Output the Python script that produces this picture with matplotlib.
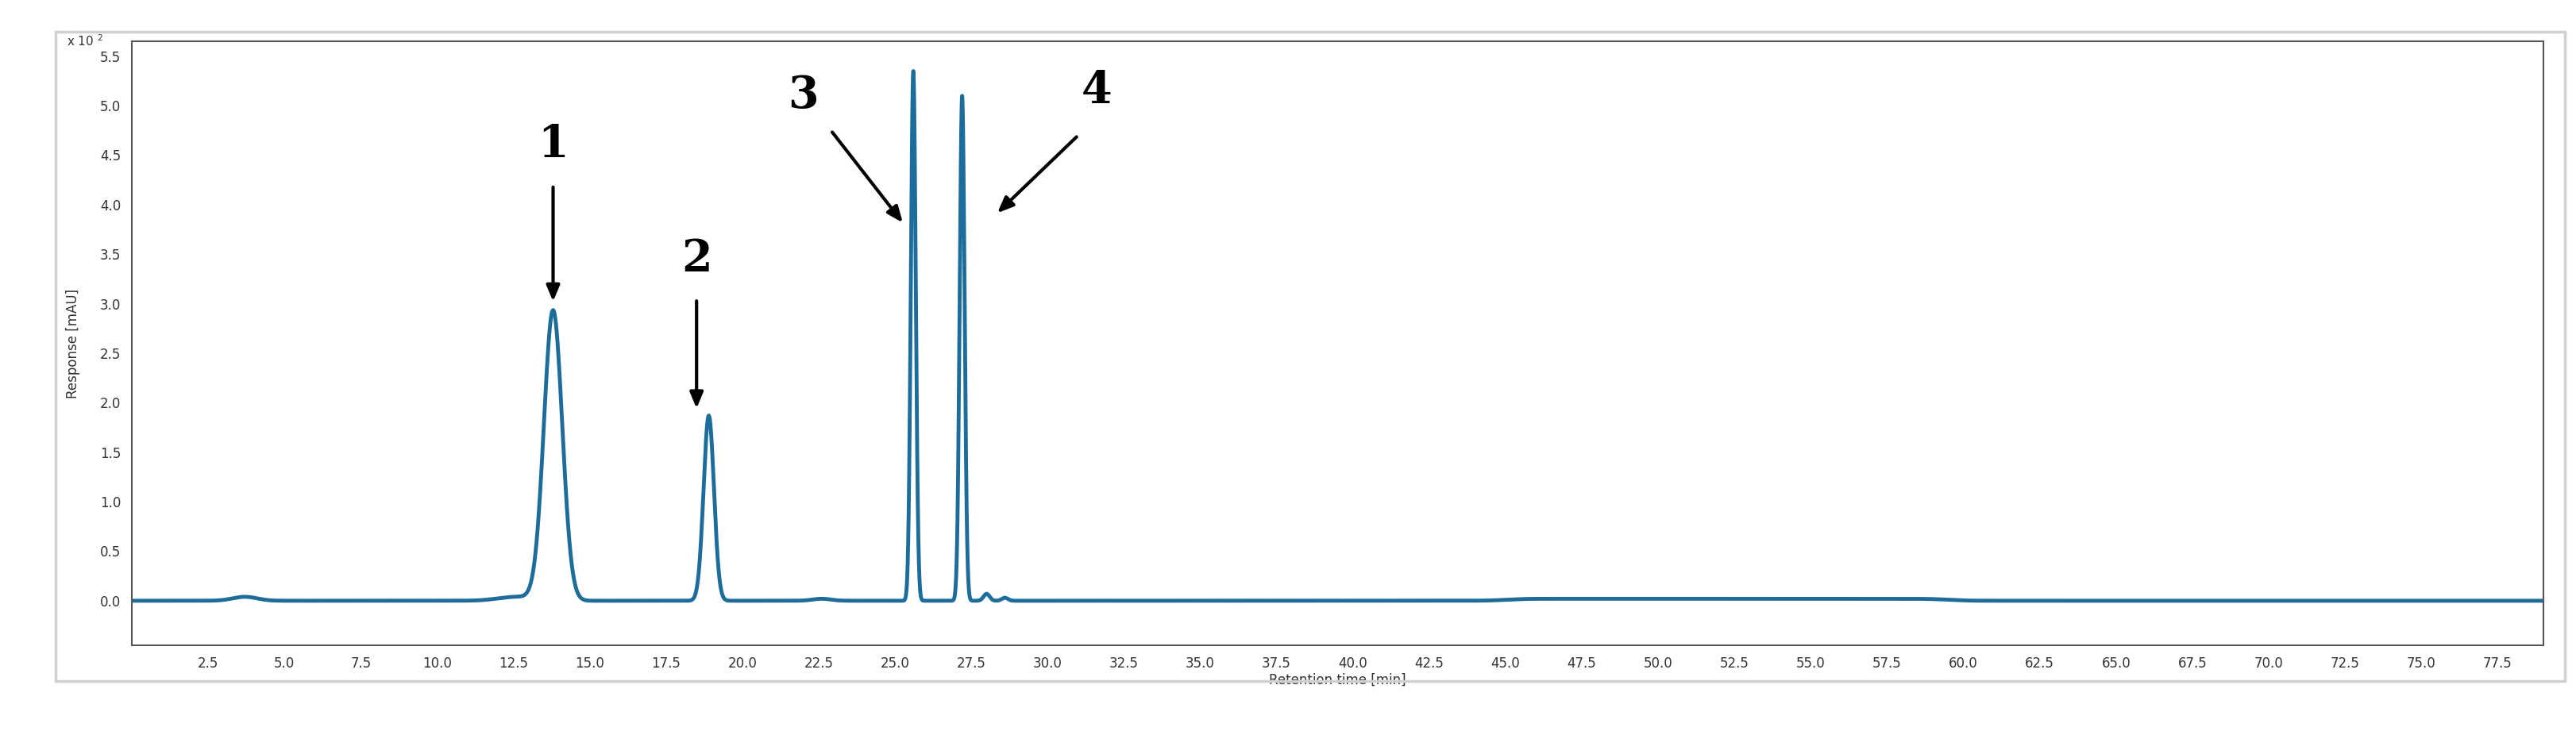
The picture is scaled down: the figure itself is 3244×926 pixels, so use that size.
import numpy as np
import matplotlib
matplotlib.use("Agg")
import matplotlib.pyplot as plt
from matplotlib.patches import Rectangle

# Peaks
peak_times = [3.7, 13.8, 18.9, 25.6, 27.2, 28.0, 28.6, 22.6, 12.6]
peak_heights = [0.04, 2.93, 1.87, 5.35, 5.10, 0.07, 0.03, 0.02, 0.04]
peak_widths = [0.4, 0.3, 0.17, 0.08, 0.08, 0.1, 0.1, 0.3, 0.6]
# broad plateau between 45 and 60 min
plateau_start, plateau_end, plateau_level = 45.0, 59.5, 0.02

labels = ["1", "2", "3", "4"]
label_xy = [(13.8, 4.6), (18.5, 3.45), (22.0, 5.1), (31.6, 5.15)]
arrow_from = [(13.8, 4.2), (18.5, 3.05), (22.9, 4.75), (31.0, 4.7)]
arrow_to = [(13.8, 3.0), (18.5, 1.92), (25.3, 3.8), (28.3, 3.9)]

xticks = np.arange(2.5, 78, 2.5)
yticks = np.arange(0, 5.51, 0.5)

t = np.linspace(0, 80, 16000)
y = np.zeros_like(t)
for c, h, w in zip(peak_times, peak_heights, peak_widths):
    y += h * np.exp(-0.5 * ((t - c) / w) ** 2)
ramp = 1 / (1 + np.exp(-(t - plateau_start) / 0.3)) * 1 / (1 + np.exp((t - plateau_end) / 0.3))
y += plateau_level * ramp

fig = plt.figure(figsize=(32.44, 9.26), dpi=100)
fig.patches.append(Rectangle((70/3244, 1-858/926), (3230-70)/3244, (858-40)/926,
                             transform=fig.transFigure, fill=False, ec="#d0d0d0", lw=2.5))
ax = fig.add_axes([166/3244, 1-813/926, (3203-166)/3244, (813-52)/926])
ax.plot(t, y, color="#1c6d9c", lw=3.5)
ax.set_xlim(0, 79)
ax.set_ylim(-0.45, 5.65)
ax.set_xticks(xticks)
ax.set_xticklabels([f"{v:.1f}" for v in xticks], fontsize=12, color="#333")
ax.set_yticks(yticks)
ax.set_yticklabels([f"{v:.1f}" for v in yticks], fontsize=12, color="#333")
ax.tick_params(length=0, pad=10)
for s in ax.spines.values():
    s.set_color("#555")
    s.set_linewidth(1.5)
ax.set_xlabel("Retention time [min]", fontsize=12, color="#333", labelpad=2)
ax.set_ylabel("Response [mAU]", fontsize=12, color="#333", labelpad=18)
ax.text(-0.012, 1.0, "x 10 $^2$", transform=ax.transAxes, ha="right", va="center",
        fontsize=11, color="#333")

for lab, (lx, ly), (fx, fy), (tx, ty) in zip(labels, label_xy, arrow_from, arrow_to):
    ax.text(lx, ly, lab, fontsize=40, fontweight="bold", family="DejaVu Serif",
            ha="center", va="center")
    ax.annotate("", xy=(tx, ty), xytext=(fx, fy),
                arrowprops=dict(arrowstyle="-|>,head_length=1.2,head_width=0.5",
                                color="black", lw=3))

fig.savefig("out.png", dpi=100)
